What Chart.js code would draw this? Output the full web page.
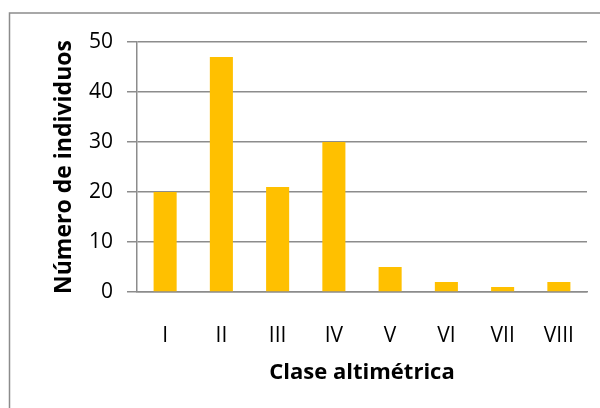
<!DOCTYPE html>
<html>
<head>
<meta charset="utf-8">
<script src="https://cdn.jsdelivr.net/npm/chart.js@4/dist/chart.umd.min.js"></script>
<style>
  html, body { margin: 0; padding: 0; background: #fff; }
  #wrap { width: 600px; height: 408px; }
</style>
</head>
<body>
<div id="wrap"><canvas id="chart" width="600" height="408"></canvas></div>
<script>
const categories = ['I', 'II', 'III', 'IV', 'V', 'VI', 'VII', 'VIII'];
const individuos = [20, 47, 21, 30, 5, 2, 1, 2];
const yTicks = [0, 10, 20, 30, 40, 50];

const gray = '#8c8c8c';

// outer frame of the chart object
const frame = {
	id: 'frame',
	beforeDraw(chart) {
		const ctx = chart.ctx;
		ctx.save();
		ctx.strokeStyle = gray;
		ctx.lineWidth = 1.5;
		ctx.strokeRect(9.5, 13, 640, 440);
		ctx.restore();
	},
};

const ctx = document.getElementById('chart').getContext('2d');
new Chart(ctx, {
	type: 'bar',
	data: {
		labels: categories,
		datasets: [
			{
				label: 'Número de individuos',
				backgroundColor: '#FFC000',
				borderWidth: 0,
				data: individuos,
				barPercentage: 0.82,
				categoryPercentage: 0.5,
			},
		],
	},
	options: {
		responsive: false,
		animation: false,
		layout: { padding: { top: 42, right: 13, left: 0, bottom: 0 } },
		plugins: { legend: { display: false }, tooltip: { enabled: false } },
		scales: {
			x: {
				grid: { display: false },
				border: { display: true, color: gray, width: 1.5 },
				ticks: { color: '#000', padding: 23, font: { family: 'Open Sans', size: 21 }, maxRotation: 0 },
				title: {
					display: true,
					text: 'Clase altimétrica',
					color: '#000',
					font: { family: 'Open Sans', size: 22, weight: 'bold' },
					padding: { top: 0, bottom: 22 },
				},
				afterFit(scale) { scale.height = 116; },
			},
			y: {
				min: 0,
				max: 50,
				afterBuildTicks(scale) { scale.ticks = yTicks.map(v => ({ value: v })); },
				grid: { color: gray, lineWidth: 1.5, tickLength: 10, drawTicks: true },
				border: { display: true, color: gray, width: 1.5 },
				ticks: { color: '#000', padding: 14, font: { family: 'Open Sans', size: 21 } },
				title: {
					display: true,
					text: 'Número de individuos',
					color: '#000',
					font: { family: 'Open Sans', size: 23, weight: 'bold' },
					padding: { top: 51, bottom: 0 },
				},
				afterFit(scale) { scale.width = 137; },
			},
		},
	},
	plugins: [frame],
});
</script>
</body>
</html>
